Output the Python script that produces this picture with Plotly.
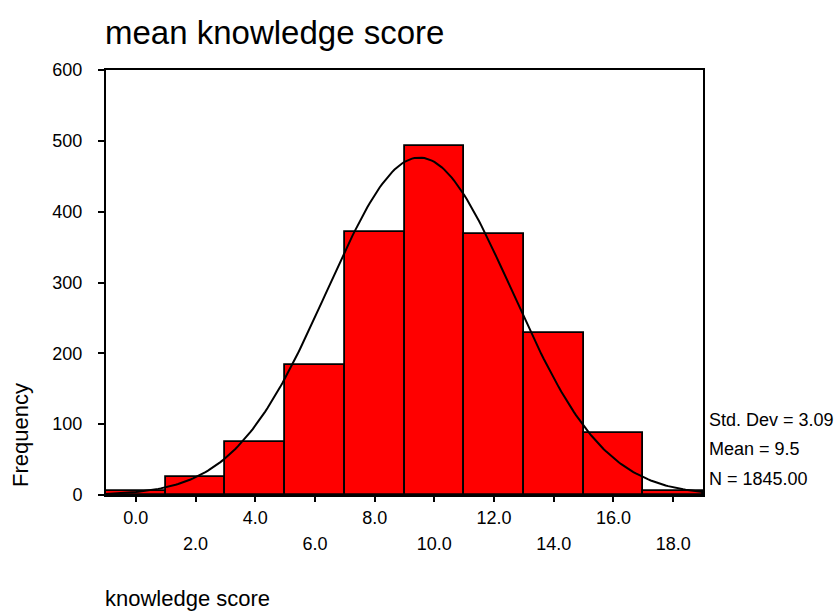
import numpy as np
import plotly.graph_objects as go

# histogram of knowledge score (bin width 2, centred on even scores)
bin_centers = [0, 2, 4, 6, 8, 10, 12, 14, 16, 18]
frequencies = [6, 25, 75, 184, 372, 493, 369, 229, 87, 5]
bin_width = 2

# summary stats shown on the chart
std_dev = 3.09
mean = 9.5
n_total = 1845

row1_ticks = [0, 4, 8, 12, 16]
row2_ticks = [2, 6, 10, 14, 18]
y_ticks = [0, 100, 200, 300, 400, 500, 600]

FONT = "Arial, Liberation Sans, sans-serif"

# fitted normal curve from mean / sd / N
xs = np.linspace(-1, 19, 241)
curve = n_total * bin_width * np.exp(-0.5 * ((xs - mean) / std_dev) ** 2) / (std_dev * np.sqrt(2 * np.pi))

fig = go.Figure()
fig.add_trace(go.Bar(
    x=bin_centers, y=frequencies, width=bin_width,
    marker=dict(color="#ff0000", line=dict(color="black", width=1.8)),
    showlegend=False, hoverinfo="x+y",
))
fig.add_trace(go.Scatter(
    x=xs, y=curve, mode="lines",
    line=dict(color="black", width=2),
    showlegend=False, hoverinfo="skip",
))
# invisible trace so the second label row axis is drawn
fig.add_trace(go.Scatter(
    x=row2_ticks, y=[0] * len(row2_ticks), xaxis="x2", mode="markers",
    marker=dict(opacity=0), showlegend=False, hoverinfo="skip",
))

fig.update_layout(
    width=840, height=615,
    margin=dict(l=106, r=137, t=70, b=120),
    paper_bgcolor="white", plot_bgcolor="white",
    font=dict(family=FONT, size=18, color="black"),
    title=dict(
        text="mean knowledge score", font=dict(size=33, family=FONT, color="black"),
        xref="container", yref="container", x=105 / 840, xanchor="left",
        y=1 - 32 / 615, yanchor="middle",
    ),
    bargap=0,
    xaxis=dict(
        range=[-1, 19], tickvals=row1_ticks + row2_ticks,
        ticktext=[f"{v:.1f}" for v in row1_ticks] + [""] * len(row2_ticks),
        ticks="outside", ticklen=5, tickwidth=1.5, tickcolor="black",
        showline=True, linecolor="black", linewidth=2, mirror=True,
        showgrid=False, zeroline=False, ticklabelstandoff=0,
    ),
    xaxis2=dict(
        range=[-1, 19], overlaying="x", anchor="y", side="bottom",
        tickvals=row2_ticks, ticktext=[f"{v:.1f}" for v in row2_ticks],
        ticks="", showline=False, showgrid=False, zeroline=False,
        ticklabelstandoff=36,
    ),
    yaxis=dict(
        range=[0, 600], tickvals=y_ticks, ticktext=[str(v) for v in y_ticks],
        ticks="outside", ticklen=6, tickwidth=1.5, tickcolor="black",
        showline=True, linecolor="black", linewidth=2, mirror=True,
        showgrid=False, zeroline=False, ticklabelstandoff=12,
    ),
    annotations=[
        dict(text="Frequency", textangle=-90, font=dict(size=22),
             xref="paper", yref="paper", x=(20 - 106) / 597, y=(495 - 435) / 425,
             xanchor="center", yanchor="middle", showarrow=False),
        dict(text="knowledge score", font=dict(size=22),
             xref="paper", yref="paper", x=-3 / 597, y=-(598 - 495) / 425,
             xanchor="left", yanchor="middle", showarrow=False),
        dict(text=f"Std. Dev = {std_dev:.2f}", xref="paper", yref="paper",
             x=1 + 4 / 597, y=(495 - 420) / 425, xanchor="left", yanchor="middle", showarrow=False),
        dict(text=f"Mean = {mean}", xref="paper", yref="paper",
             x=1 + 4 / 597, y=(495 - 449) / 425, xanchor="left", yanchor="middle", showarrow=False),
        dict(text=f"N = {n_total:.2f}", xref="paper", yref="paper",
             x=1 + 4 / 597, y=(495 - 479) / 425, xanchor="left", yanchor="middle", showarrow=False),
    ],
)

# drop the default page margin so the 840x615 figure sits at the window's corner
fig.write_html(
    "out.html",
    config={"displayModeBar": False},
    post_script="document.body.style.margin='0';document.body.style.overflow='hidden';",
)
